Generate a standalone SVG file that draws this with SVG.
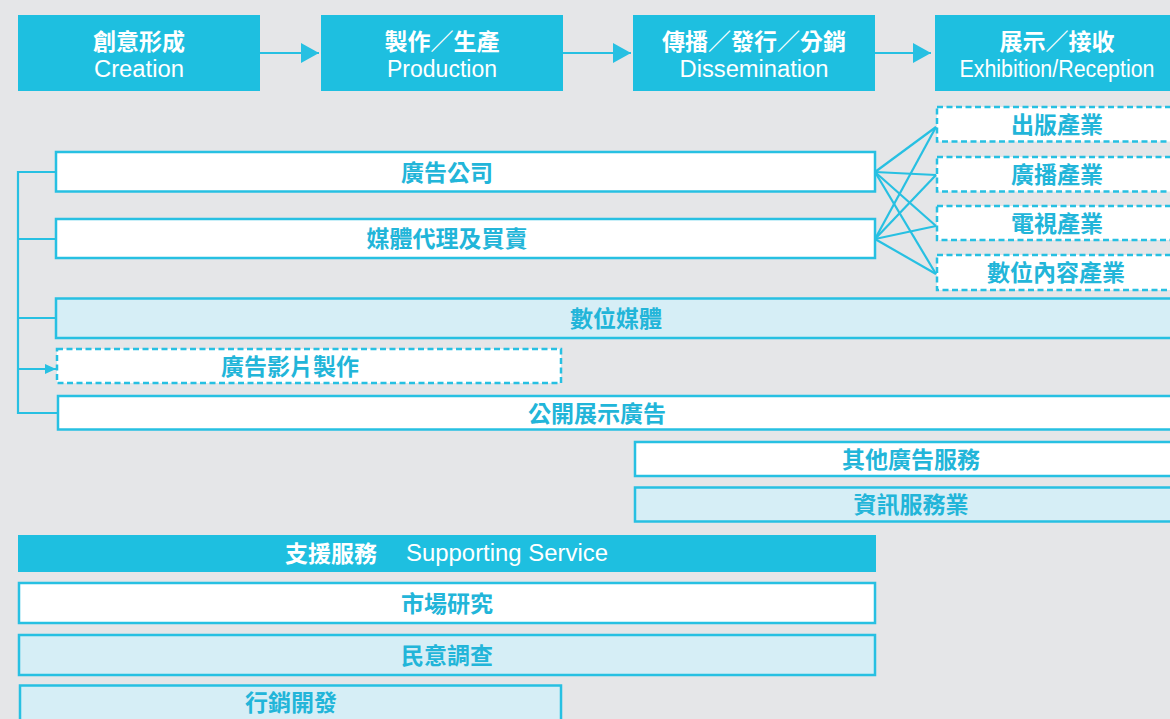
<svg xmlns="http://www.w3.org/2000/svg" width="1170" height="719" viewBox="0 0 1170 719">
<defs>
<style>
.hdr{fill:#1ebfe0}
.box{fill:#ffffff;stroke:#27c0e2;stroke-width:2.5}
.lbox{fill:#d6eef6;stroke:#27c0e2;stroke-width:2.5}
.dbox{fill:#ffffff;stroke:#27c0e2;stroke-width:2.5;stroke-dasharray:6 3.5}
.zh{font-family:"Liberation Sans","Noto Sans CJK TC",sans-serif;font-weight:bold;font-size:23px;text-anchor:middle}
.en{font-family:"Liberation Sans","Noto Sans CJK TC",sans-serif;font-size:23px;text-anchor:middle;fill:#ffffff}
.w{fill:#ffffff}
.b{fill:#22b5d9}
.ln{stroke:#27c0e2;stroke-width:2.2;fill:none}
</style>
<marker id="big" markerUnits="userSpaceOnUse" markerWidth="18" markerHeight="20" refX="18" refY="10" orient="auto">
<path d="M0,0 L18,10 L0,20 Z" fill="#27c0e2"/>
</marker>
<marker id="small" markerUnits="userSpaceOnUse" markerWidth="11" markerHeight="10" refX="11" refY="5" orient="auto">
<path d="M0,0 L11,5 L0,10 Z" fill="#27c0e2"/>
</marker>
</defs>
<rect x="0" y="0" width="1170" height="719" fill="#e5e6e8"/>

<g id="connectors">
<line class="ln" x1="260" y1="53" x2="319" y2="53" marker-end="url(#big)"/>
<line class="ln" x1="563" y1="53" x2="631" y2="53" marker-end="url(#big)"/>
<line class="ln" x1="875" y1="53" x2="931" y2="53" marker-end="url(#big)"/>
<polyline class="ln" points="55,172 18,172 18,413 57,413"/>
<line class="ln" x1="18" y1="239" x2="56" y2="239"/>
<line class="ln" x1="18" y1="318" x2="56" y2="318"/>
<line class="ln" x1="18" y1="369" x2="56" y2="369" marker-end="url(#small)"/>
<line class="ln" x1="875" y1="172" x2="936" y2="127"/>
<line class="ln" x1="875" y1="172" x2="936" y2="175"/>
<line class="ln" x1="875" y1="172" x2="936" y2="226"/>
<line class="ln" x1="875" y1="172" x2="936" y2="274"/>
<line class="ln" x1="875" y1="239" x2="936" y2="127"/>
<line class="ln" x1="875" y1="239" x2="936" y2="175"/>
<line class="ln" x1="875" y1="239" x2="936" y2="226"/>
<line class="ln" x1="875" y1="239" x2="936" y2="274"/>
</g>

<g id="creation">
<rect class="hdr" x="18" y="15" width="242" height="76"/>
<text class="zh w" x="139" y="50">創意形成</text>
<text class="en" x="139" y="77" textLength="90" lengthAdjust="spacingAndGlyphs">Creation</text>
</g>
<g id="production">
<rect class="hdr" x="321" y="15" width="242" height="76"/>
<text class="zh w" x="442" y="50">製作／生產</text>
<text class="en" x="442" y="77">Production</text>
</g>
<g id="dissemination">
<rect class="hdr" x="633" y="15" width="242" height="76"/>
<text class="zh w" x="754" y="50">傳播／發行／分銷</text>
<text class="en" x="754" y="77" textLength="149" lengthAdjust="spacingAndGlyphs">Dissemination</text>
</g>
<g id="exhibition">
<rect class="hdr" x="935" y="15" width="240" height="76"/>
<text class="zh w" x="1057" y="50">展示／接收</text>
<text class="en" x="1057" y="77" textLength="195" lengthAdjust="spacingAndGlyphs">Exhibition/Reception</text>
</g>

<g id="publishing">
<rect class="dbox" x="937" y="107" width="240" height="34.5"/>
<text class="zh b" x="1057" y="133">出版產業</text>
</g>
<g id="broadcasting">
<rect class="dbox" x="937" y="157" width="240" height="34.5"/>
<text class="zh b" x="1057" y="183">廣播產業</text>
</g>
<g id="television">
<rect class="dbox" x="937" y="206" width="240" height="34"/>
<text class="zh b" x="1057" y="231.5">電視產業</text>
</g>
<g id="digital-content">
<rect class="dbox" x="937" y="255" width="240" height="35"/>
<text class="zh b" x="1056" y="281">數位內容產業</text>
</g>

<g id="ad-agency">
<rect class="box" x="56" y="152" width="819" height="39.5"/>
<text class="zh b" x="447" y="180.5">廣告公司</text>
</g>
<g id="media-agency">
<rect class="box" x="56" y="219" width="819" height="39"/>
<text class="zh b" x="447" y="247">媒體代理及買賣</text>
</g>
<g id="digital-media">
<rect class="lbox" x="56" y="298.5" width="1120" height="39.5"/>
<text class="zh b" x="616" y="326.5">數位媒體</text>
</g>
<g id="ad-film">
<rect class="dbox" x="57" y="349" width="504" height="34"/>
<text class="zh b" x="290" y="374.5">廣告影片製作</text>
</g>
<g id="outdoor-ad">
<rect class="box" x="58" y="396" width="1120" height="33.5"/>
<text class="zh b" x="597" y="421.5">公開展示廣告</text>
</g>
<g id="other-ad">
<rect class="box" x="635" y="442" width="540" height="34"/>
<text class="zh b" x="911" y="467.5">其他廣告服務</text>
</g>
<g id="info-service">
<rect class="lbox" x="635" y="487.5" width="540" height="34"/>
<text class="zh b" x="911" y="513">資訊服務業</text>
</g>

<g id="support">
<rect class="hdr" x="18" y="535" width="858" height="37"/>
<text class="zh w" x="331" y="561.5">支援服務</text>
<text class="en" x="507" y="561" textLength="202" lengthAdjust="spacingAndGlyphs">Supporting Service</text>
</g>
<g id="market-research">
<rect class="box" x="19" y="583" width="856" height="40"/>
<text class="zh b" x="447" y="611.5">市場研究</text>
</g>
<g id="opinion-poll">
<rect class="lbox" x="19" y="635" width="856" height="40"/>
<text class="zh b" x="447" y="663.5">民意調查</text>
</g>
<g id="marketing">
<rect class="lbox" x="20" y="685.5" width="541" height="40"/>
<text class="zh b" x="291" y="710.5">行銷開發</text>
</g>
</svg>
